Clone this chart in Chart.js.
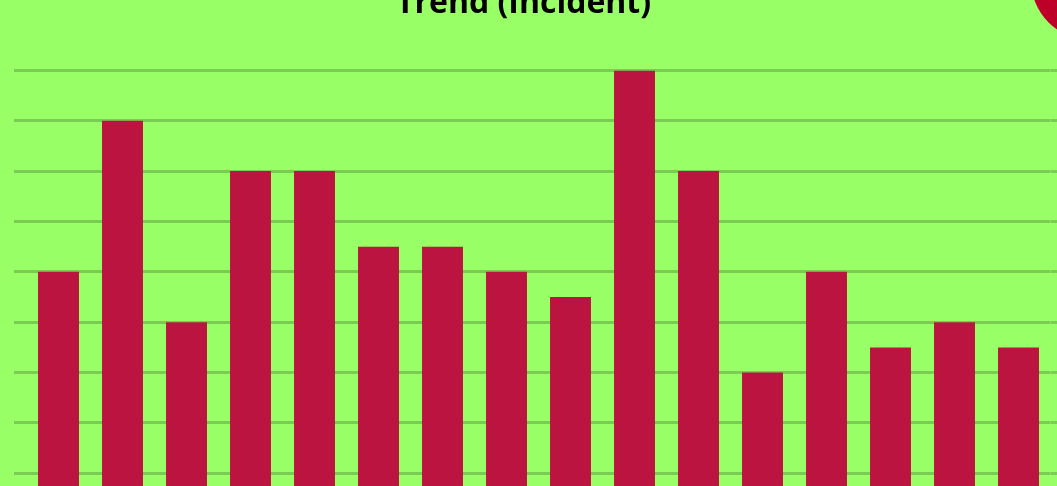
<!DOCTYPE html>
<html>
<head>
<meta charset="utf-8">
<script src="https://cdn.jsdelivr.net/npm/chart.js@4/dist/chart.umd.min.js"></script>
<style>
  html, body { margin: 0; padding: 0; background: #99FF66; overflow: hidden; }
  #stage { position: relative; width: 1057px; height: 486px; overflow: hidden; background: #99FF66; }
  #wrap { position: absolute; left: 0; top: -40px; width: 1057px; height: 620px; }
  #dot { position: absolute; left: 1031px; top: -80px; width: 120px; height: 120px; border-radius: 50%; background: #BE0028; }
</style>
</head>
<body>
<div id="stage">
  <div id="wrap"><canvas id="c" width="1057" height="620"></canvas></div>
  <div id="dot"></div>
</div>
<script>
const titleText = "Trend (Incident)";
const categories = ["1","2","3","4","5","6","7","8","9","10","11","12","13","14","15","16"];
const incidents = [12, 18, 10, 16, 16, 13, 13, 12, 11, 20, 16, 8, 12, 9, 10, 9];
const yTicks = [0, 2, 4, 6, 8, 10, 12, 14, 16, 18, 20];

const gridColor = '#7ACC52';
const barColor = '#BC1440';

const titleShift = {
  id: 'titleShift',
  afterLayout(chart) {
    if (chart.titleBlock) { chart.titleBlock.right -= 24; }
  }
};

new Chart(document.getElementById('c'), {
  type: 'bar',
  data: {
    labels: categories,
    datasets: [{
      label: 'Incident',
      data: incidents,
      backgroundColor: barColor,
      borderWidth: 0,
      categoryPercentage: 0.8,
      barPercentage: 0.8
    }]
  },
  options: {
    responsive: false,
    animation: false,
    devicePixelRatio: 1,
    layout: { padding: { left: 14, right: 0, top: 0, bottom: 6 } },
    plugins: {
      legend: { display: false },
      tooltip: { enabled: false },
      title: {
        display: true,
        text: titleText,
        color: '#000000',
        font: { family: '"Open Sans", sans-serif', size: 32, weight: 'bold' },
        padding: { top: 25, bottom: 47 }
      }
    },
    scales: {
      x: { display: false },
      y: {
        min: yTicks[0], max: yTicks[yTicks.length - 1],
        afterBuildTicks(axis) { axis.ticks = yTicks.map(v => ({ value: v })); },
        ticks: { display: false },
        border: { display: false },
        grid: { color: gridColor, lineWidth: 3, drawTicks: true, tickLength: 12.5 }
      },
      y2: {
        position: 'right',
        min: yTicks[0], max: yTicks[yTicks.length - 1],
        afterBuildTicks(axis) { axis.ticks = yTicks.map(v => ({ value: v })); },
        ticks: { display: false },
        border: { display: false },
        grid: { color: gridColor, lineWidth: 3, drawOnChartArea: false, drawTicks: true, tickLength: 6.5 }
      }
    }
  },
  plugins: [titleShift]
});
</script>
</body>
</html>
